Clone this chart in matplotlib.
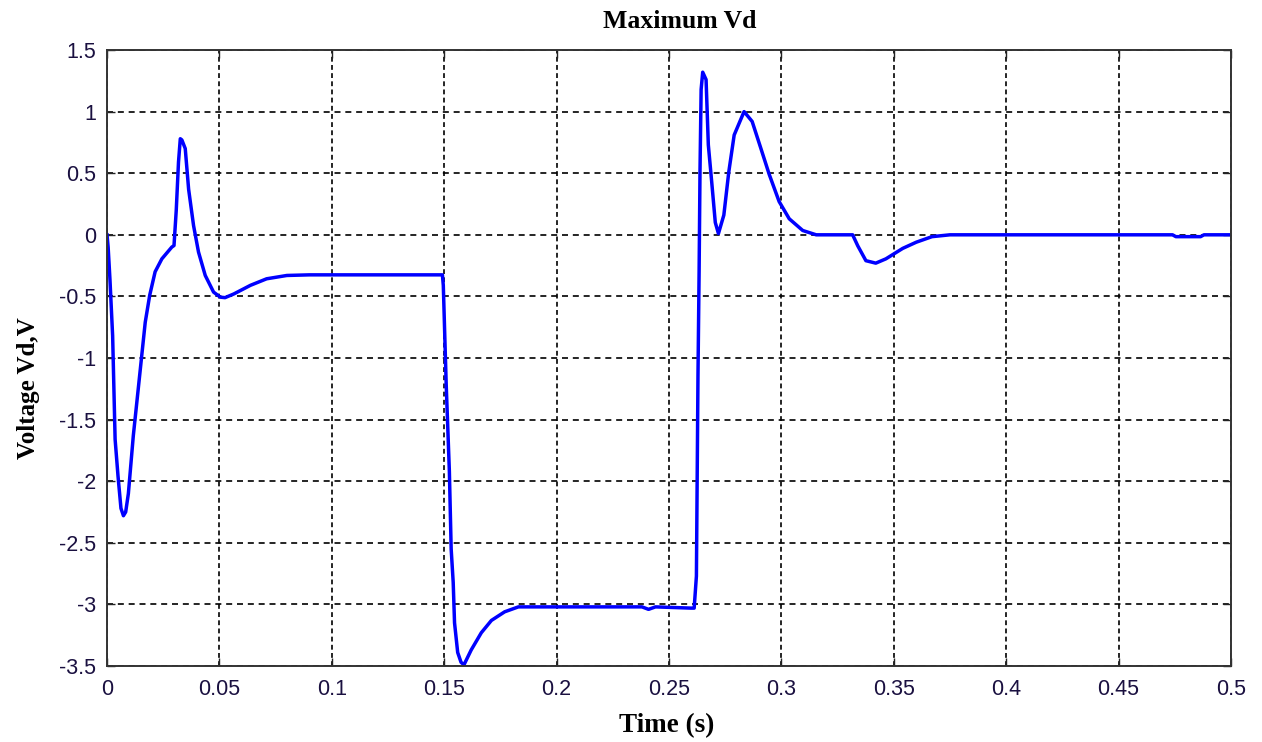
import matplotlib.pyplot as plt
import numpy as np

# DATA
t = [0.0, 0.0005, 0.0013, 0.0025, 0.0036, 0.0049, 0.0062, 0.0073, 0.0083, 0.0095,
     0.0117, 0.0147, 0.017, 0.019, 0.0214, 0.0244, 0.0288, 0.0298, 0.0308, 0.0318,
     0.0326, 0.0333, 0.0348, 0.0363, 0.0385, 0.0407, 0.0437, 0.0474, 0.0504, 0.0525,
     0.0564, 0.0638, 0.071, 0.08, 0.09, 0.12, 0.1492,
     0.1496, 0.1509, 0.1523, 0.1531, 0.154, 0.1546, 0.156, 0.1575, 0.1588, 0.162,
     0.1665, 0.171, 0.1769, 0.183, 0.19, 0.22, 0.238, 0.2409, 0.244, 0.2598,
     0.2612, 0.2622, 0.2629, 0.2634, 0.2638, 0.2643, 0.265, 0.2665, 0.2675, 0.269,
     0.2706, 0.272, 0.2744, 0.2766, 0.279, 0.2834, 0.287, 0.2909, 0.2946, 0.299,
     0.3035, 0.3095, 0.3155, 0.3317, 0.334, 0.3376, 0.342, 0.3465, 0.354, 0.36,
     0.367, 0.375, 0.474, 0.4755, 0.4865, 0.488, 0.5]
vd = [0.0, -0.1, -0.36, -0.82, -1.66, -1.96, -2.22, -2.28, -2.25, -2.1,
      -1.63, -1.11, -0.71, -0.49, -0.30, -0.195, -0.10, -0.087, 0.2, 0.59,
      0.78, 0.77, 0.70, 0.37, 0.075, -0.14, -0.33, -0.465, -0.506, -0.51,
      -0.48, -0.41, -0.357, -0.33, -0.325, -0.325, -0.325,
      -0.41, -1.22, -1.92, -2.55, -2.82, -3.15, -3.39, -3.47, -3.49, -3.37,
      -3.23, -3.13, -3.06, -3.02, -3.02, -3.02, -3.02, -3.04, -3.02, -3.03,
      -3.03, -2.77, -1.14, -0.3, 0.52, 1.18, 1.32, 1.26, 0.73, 0.43,
      0.10, 0.01, 0.16, 0.51, 0.81, 1.0, 0.92, 0.70, 0.49, 0.27,
      0.13, 0.035, 0.0, 0.0, -0.09, -0.21, -0.23, -0.195, -0.11, -0.06,
      -0.015, 0.0, 0.0, -0.015, -0.015, 0.0, 0.0]

x_ticks = np.arange(0, 0.5001, 0.05)
x_labels = ['0', '0.05', '0.1', '0.15', '0.2', '0.25', '0.3', '0.35', '0.4', '0.45', '0.5']
y_ticks = np.arange(-3.5, 1.5001, 0.5)
y_labels = ['-3.5', '-3', '-2.5', '-2', '-1.5', '-1', '-0.5', '0', '0.5', '1', '1.5']

# PLOT
fig = plt.figure(figsize=(12.62, 7.42), dpi=100)
ax = fig.add_axes([0.0848, 0.1024, 0.8906, 0.8302])

ax.plot(t, vd, color='#0000ff', linewidth=2.5)

ax.set_xlim(0, 0.5)
ax.set_ylim(-3.5, 1.5)
ax.set_xticks(x_ticks)
ax.set_xticklabels(x_labels)
ax.set_yticks(y_ticks)
ax.set_yticklabels(y_labels)
ax.tick_params(direction='in', length=6, width=1, labelsize=15.5, top=True, right=True,
               colors='#222222', labelcolor='#1a1040')
ax.tick_params(axis='x', pad=9)
ax.tick_params(axis='y', pad=8)
for lbl in ax.get_xticklabels() + ax.get_yticklabels():
    lbl.set_family('Liberation Sans')

# dotted grid, slightly different dash on the two axes as in the reference
ax.xaxis.grid(True, color='black', linestyle=(0, (2.9, 2.0)), linewidth=1.2)
ax.yaxis.grid(True, color='black', linestyle=(0, (3.6, 2.9)), linewidth=1.2)
for s in ax.spines.values():
    s.set_linewidth(1.4)
    s.set_color('#333333')

serif = 'Liberation Serif'
ax.set_title('Maximum Vd', fontsize=18.5, fontweight='bold', family=serif,
             x=0.5098, y=1.0455, pad=0, va='center')
ax.set_xlabel('Time (s)', fontsize=19.5, fontweight='bold', family=serif, va='center')
ax.xaxis.set_label_coords(0.498, -0.097)
ax.set_ylabel('Voltage Vd,V', fontsize=18, fontweight='bold', family=serif,
              va='center', ha='center')
ax.yaxis.set_label_coords(-0.0703, 0.451)

fig.savefig('out.png', dpi=100)
